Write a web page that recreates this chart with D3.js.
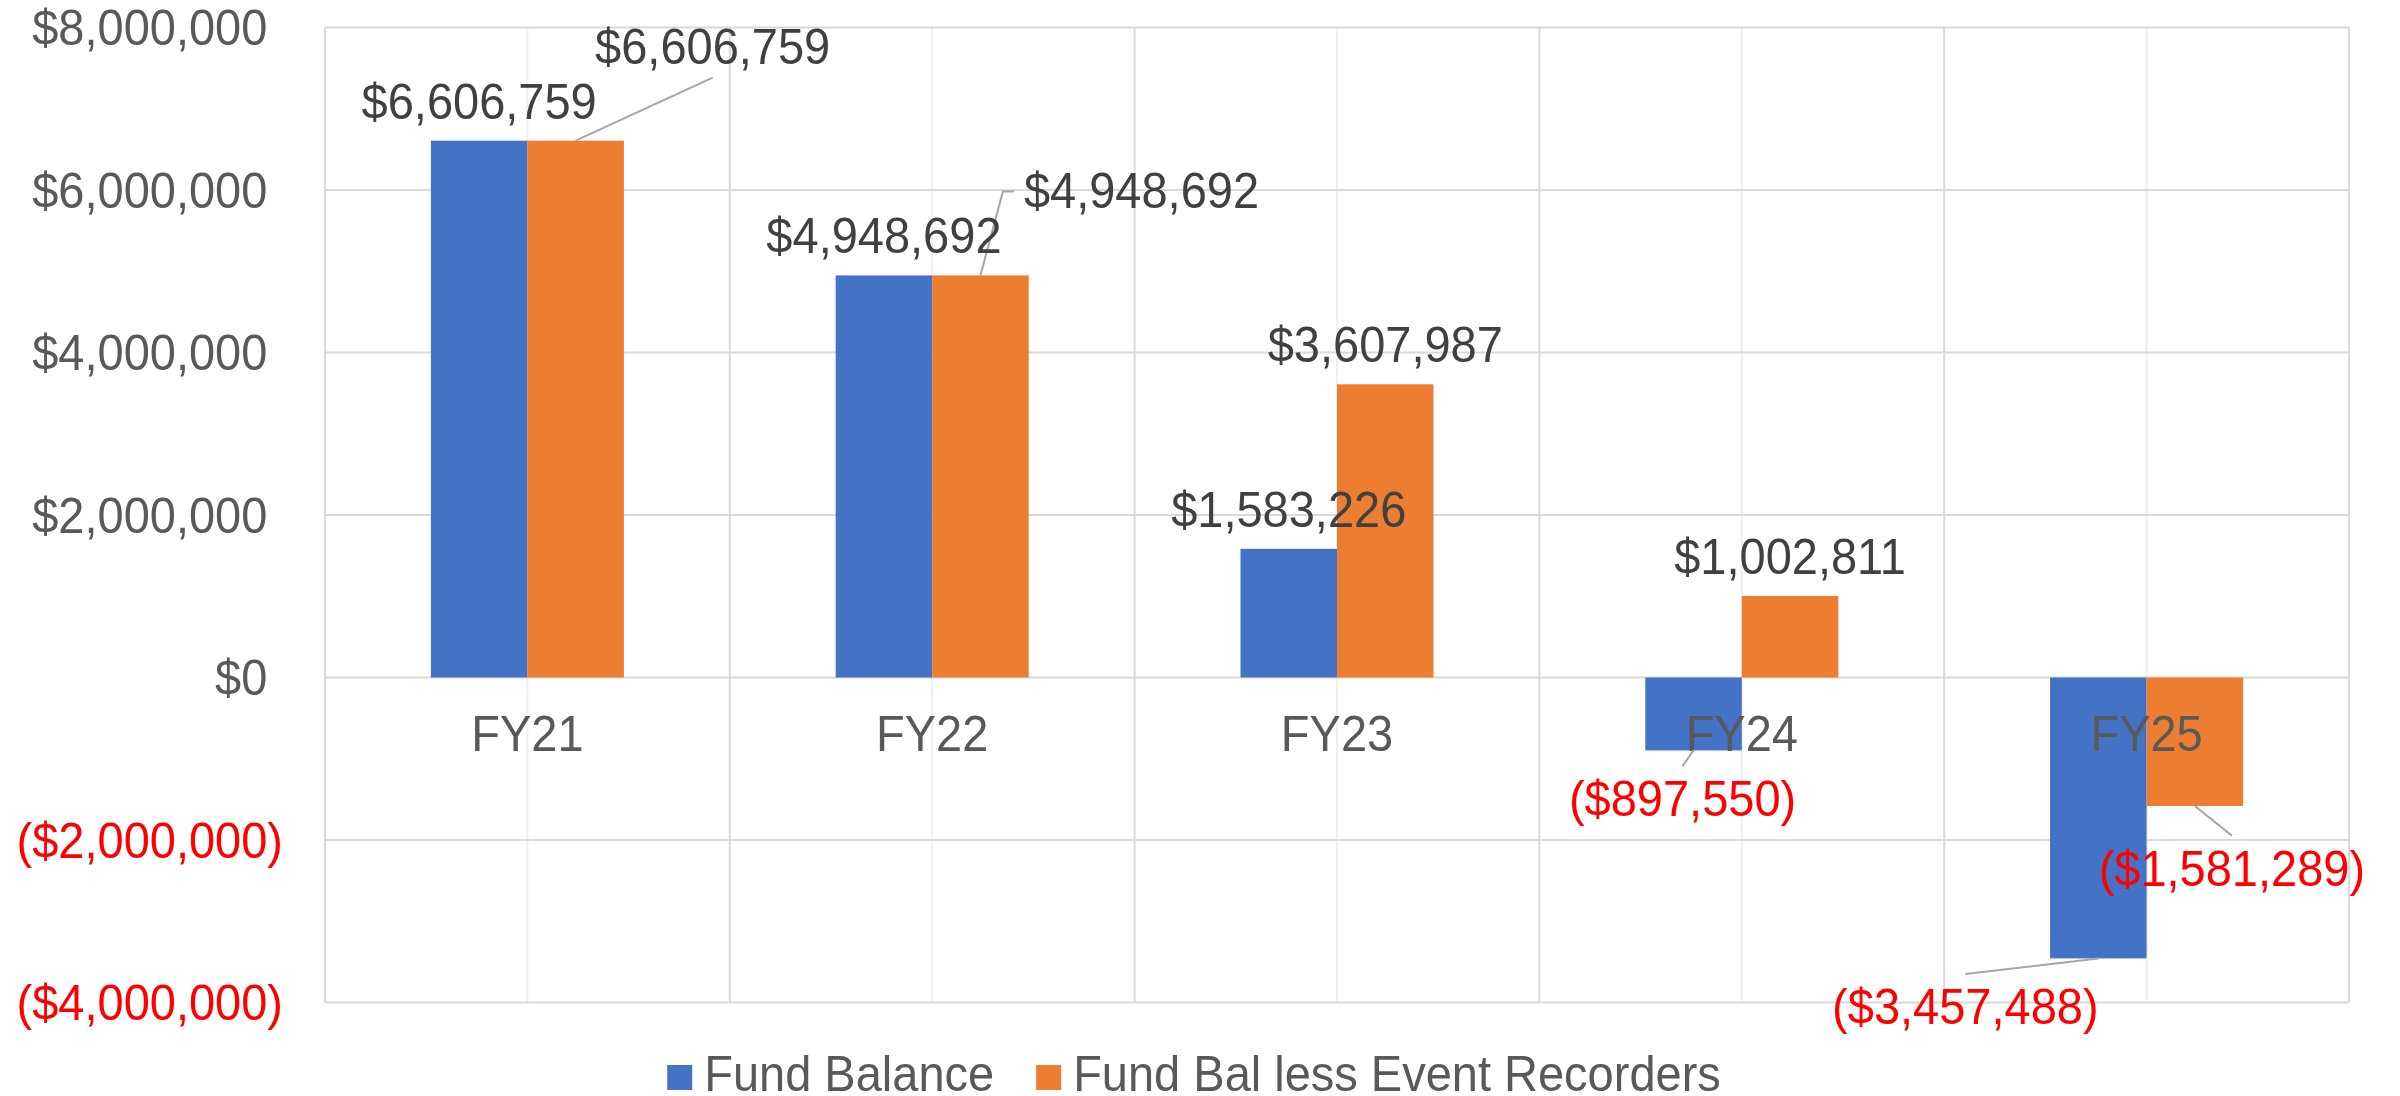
<!DOCTYPE html>
<html>
<head>
<meta charset="utf-8">
<script src="https://cdn.jsdelivr.net/npm/d3@7/dist/d3.min.js"></script>
<style>
  html, body { margin: 0; padding: 0; background: #fff; }
  svg text { font-family: "Liberation Sans", Arial, sans-serif; }
</style>
</head>
<body>
<div id="chart"></div>
<script>
// data
var categories = ["FY21", "FY22", "FY23", "FY24", "FY25"];
var seriesNames = ["Fund Balance", "Fund Bal less Event Recorders"];
var fundBalance = [6606759, 4948692, 1583226, -897550, -3457488];
var fundBalLessER = [6606759, 4948692, 3607987, 1002811, -1581289];
var yTicks = [8000000, 6000000, 4000000, 2000000, 0, -2000000, -4000000];

var colors = ["#4472C4", "#ED7D31"];

// labels that Excel moved off the bar end (with a leader line): [category, series, dx, dy, leader kind]
var movedLabels = [
    ["FY21", 1, 137, -77, "above"],
    ["FY22", 1, 161, -67, "side"],
    ["FY24", 0, -11, 66, "below"],
    ["FY25", 0, -133, 66, "below"],
    ["FY25", 1, 37, 80, "below"]
];

var width = 2400, height = 1096;
var fs = 47, sy = 1.05;   // text is a touch taller than plain Arial

var svg = d3.select("#chart").append("svg")
    .attr("width", width)
    .attr("height", height);

svg.append("rect").attr("width", width).attr("height", height).attr("fill", "#fff");

// put text at (x,y) baseline, slightly stretched vertically
function place(x, y) { return "translate(" + x + "," + y + ") scale(1," + sy + ")"; }

var x0 = d3.scaleBand().domain(categories).range([325, 2349]).padding(0);
var x1 = d3.scaleBand().domain([0, 1]).range([0, x0.bandwidth()]).paddingInner(0).paddingOuter(1.097);
var y = d3.scaleLinear().domain([-4000000, 8000000]).range([1002.5, 27.5]);

var money = d3.format(",.0f");
function fmt(v) { return v < 0 ? "($" + money(-v) + ")" : "$" + money(v); }

// vertical gridlines (minor at centres, major at boundaries)
svg.append("g").selectAll("line.minor")
    .data(categories).enter().append("line")
    .attr("x1", function(d) { return x0(d) + x0.bandwidth() / 2; })
    .attr("x2", function(d) { return x0(d) + x0.bandwidth() / 2; })
    .attr("y1", y(8000000)).attr("y2", y(-4000000))
    .style("stroke", "#EFEFEF").style("stroke-width", 2);

var bounds = categories.map(function(c) { return x0(c); }).concat([x0.range()[1]]);
svg.append("g").selectAll("line.major")
    .data(bounds).enter().append("line")
    .attr("x1", function(d) { return d; }).attr("x2", function(d) { return d; })
    .attr("y1", y(8000000)).attr("y2", y(-4000000))
    .style("stroke", "#D9D9D9").style("stroke-width", 2);

// horizontal gridlines
svg.append("g").selectAll("line.h")
    .data(yTicks).enter().append("line")
    .attr("x1", x0.range()[0]).attr("x2", x0.range()[1])
    .attr("y1", function(d) { return y(d); }).attr("y2", function(d) { return y(d); })
    .style("stroke", "#D9D9D9").style("stroke-width", 2);

// y tick labels (accounting format: positives padded by a ")")
svg.append("g").selectAll("text")
    .data(yTicks).enter().append("text")
    .attr("transform", function(d) {
        return place(d < 0 ? 283 : 283 - fs * 0.333, y(d) + fs * 0.358 * sy);
    })
    .attr("text-anchor", "end")
    .style("font-size", fs + "px")
    .style("fill", function(d) { return d < 0 ? "#FF0000" : "#595959"; })
    .text(fmt);

// bars
var rows = [];
categories.forEach(function(c, i) {
    rows.push({cat: c, s: 0, v: fundBalance[i]});
    rows.push({cat: c, s: 1, v: fundBalLessER[i]});
});

svg.append("g").selectAll("rect")
    .data(rows).enter().append("rect")
    .attr("x", function(d) { return x0(d.cat) + x1(d.s); })
    .attr("width", x1.bandwidth())
    .attr("y", function(d) { return Math.min(y(d.v), y(0)); })
    .attr("height", function(d) { return Math.abs(y(d.v) - y(0)); })
    .style("fill", function(d) { return colors[d.s]; });

// category labels
svg.append("g").selectAll("text")
    .data(categories).enter().append("text")
    .attr("transform", function(d) { return place(x0(d) + x0.bandwidth() / 2, y(0) + 73); })
    .attr("text-anchor", "middle")
    .style("font-size", fs + "px")
    .style("fill", "#595959")
    .text(function(d) { return d; });

// data labels
var lg = svg.append("g");
var cap = fs * 0.716 * sy;
rows.forEach(function(d) {
    var cx = x0(d.cat) + x1(d.s) + x1.bandwidth() / 2;
    var ey = y(d.v);
    var lx = cx, ly = d.v < 0 ? ey + 22 + cap : ey - 22;
    var mv = movedLabels.find(function(m) { return m[0] === d.cat && m[1] === d.s; });
    if (mv) { lx = cx + mv[2]; ly = ey + mv[3]; }
    var t = lg.append("text")
        .attr("transform", place(lx, ly))
        .attr("text-anchor", "middle")
        .style("font-size", fs + "px")
        .style("fill", d.v < 0 ? "#FF0000" : "#404040")
        .text(fmt(d.v));
    if (!mv) return;
    var pts;
    if (mv[4] === "above") pts = [[lx, ly + 14], [cx, ey]];
    else if (mv[4] === "below") pts = [[lx, ly - cap - 15], [cx, ey]];
    else {
        var left = lx - t.node().getComputedTextLength() / 2;
        pts = [[left - 10, ly - 17], [left - 21, ly - 17], [cx, ey]];
    }
    lg.insert("path", "text")
        .attr("d", d3.line()(pts))
        .style("fill", "none").style("stroke", "#A6A6A6").style("stroke-width", 2);
});

// legend
var legend = svg.append("g");
var lx0 = 0;
seriesNames.forEach(function(n, i) {
    var g = legend.append("g").attr("transform", "translate(" + lx0 + ",0)");
    g.append("rect").attr("x", 0).attr("y", 1065).attr("width", 25).attr("height", 25).style("fill", colors[i]);
    var t = g.append("text").attr("transform", place(37, 1091))
        .style("font-size", fs + "px").style("fill", "#595959").text(n);
    lx0 += 37 + t.node().getComputedTextLength() + 42;
});
var lw = lx0 - 42;
legend.attr("transform", "translate(" + (1194 - lw / 2) + ",0)");
</script>
</body>
</html>
